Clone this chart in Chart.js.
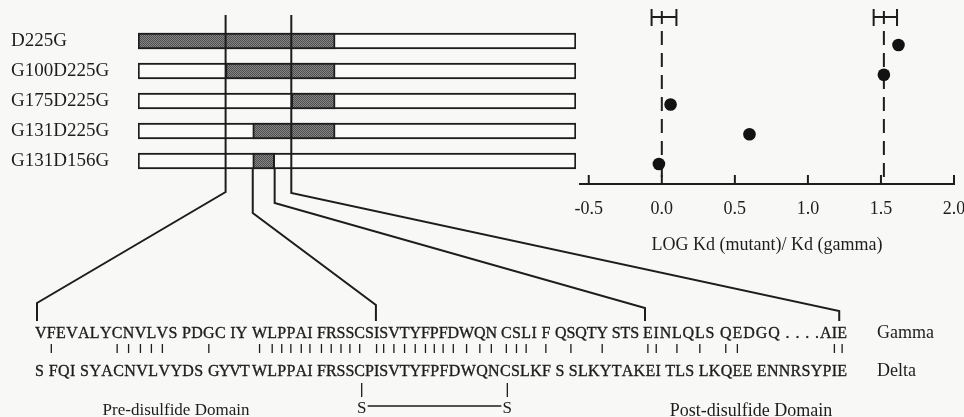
<!DOCTYPE html>
<html>
<head>
<meta charset="utf-8">
<script src="https://cdn.jsdelivr.net/npm/chart.js@4.4.1/dist/chart.umd.min.js"></script>
<style>
  html, body { margin: 0; padding: 0; background: #f8f8f6; }
  #wrap { position: relative; width: 964px; height: 417px; overflow: hidden; }
  .layer { position: absolute; left: 0; top: 0; }
</style>
</head>
<body>
<div id="wrap">
  <div class="layer" style="width:964px;height:417px"><canvas id="bars"></canvas></div>
  <div class="layer" style="width:964px;height:260px"><canvas id="kd"></canvas></div>
</div>
<script>
// ---- data ----
const mutants   = ['D225G', 'G100D225G', 'G175D225G', 'G131D225G', 'G131D156G'];
const swapStart = [0, 100, 175, 131, 131];     // first residue of the swapped segment
const swapEnd   = [225, 225, 225, 225, 156];   // last residue of the swapped segment
const chainLength = 500;
const kdRatio   = [1.62, 1.52, 0.06, 0.60, -0.02];   // LOG Kd(mutant)/Kd(gamma)
const refMean   = [0.00, 1.52];                       // gamma, delta
const refLow    = [-0.07, 1.45];
const refHigh   = [0.10, 1.61];
const kdTicks   = [-0.5, 0.0, 0.5, 1.0, 1.5, 2.0];
const boundaries = [100, 131, 156, 175];               // residues linked to the sequence
const gammaFirst = 100;                                // residue number of first aligned position
const gammaSeq = 'VFEVALYCNVLVS PDGC IY WLPPAI FRSSCSISVTYFPFDWQN CSLI F QSQTY STS EINLQLS QEDGQ . . . .AIE';
const deltaSeq = 'S FQI SYACNVLVYDS GYVT WLPPAI FRSSCPISVTYFPFDWQNCSLKF S SLKYTAKEI TLS LKQEE ENNRSYPIE';
const identicalPos = [2, 8, 9, 10, 11, 12, 16, 20, 21, 22, 23, 24, 25, 26, 27, 28, 29, 30,
  32, 33, 34, 35, 36, 37, 38, 39, 40, 41, 42, 43, 44, 45, 46, 48, 50, 53, 57, 58, 60, 62,
  64, 65, 74, 75];
const cystinePos = [30, 44];

// ---- typesetting of the alignment: [aligned position, left x] ----
const gammaAnchors = [[1, 35], [20, 252], [26, 317], [37, 421], [44, 501], [49, 555],
                      [57, 643], [64, 720], [73, 820]];
const deltaAnchors = [[1, 35], [16, 208], [20, 252], [26, 317], [37, 421], [44, 500]];
const seqRight = 847;

// ---- drawing helpers ----
const ink = '#1d1d1d';
const serif = "'Liberation Serif', 'Times New Roman', serif";

function stipple() {
  const c = document.createElement('canvas');
  c.width = 2; c.height = 2;
  const g = c.getContext('2d');
  g.fillStyle = '#858585'; g.fillRect(0, 0, 2, 2);
  g.fillStyle = '#4f4f4f'; g.fillRect(0, 0, 1, 1); g.fillRect(1, 1, 1, 1);
  return g.createPattern(c, 'repeat');
}

// place the glyphs of an aligned sequence, pinning some positions to given x
function layoutSeq(ctx, str, anchors, xEnd) {
  let pos = 0;
  const glyphs = [...str].map(c => ({
    ch: c, w: ctx.measureText(c).width, pos: c === ' ' ? null : ++pos
  }));
  const idx = anchors.map(([p, x]) => [glyphs.findIndex(g => g.pos === p), x]);
  for (let k = 0; k < idx.length; k++) {
    const [a, xa] = idx[k];
    const last = k === idx.length - 1;
    const b = last ? glyphs.length : idx[k + 1][0];
    let natural = 0;
    for (let i = a; i < b; i++) natural += glyphs[i].w;
    const span = last ? (xEnd - xa) : (idx[k + 1][1] - xa);
    const gaps = last ? Math.max(b - a - 1, 1) : (b - a);
    const extra = (span - natural) / gaps;
    let x = xa;
    for (let i = a; i < b; i++) {
      glyphs[i].x = x; glyphs[i].cx = x + glyphs[i].w / 2;
      x += glyphs[i].w + extra;
    }
  }
  return glyphs;
}
function glyphAt(glyphs, p) {
  let best = null;
  glyphs.forEach(g => { if (g.pos !== null && g.pos <= p) best = g; });
  return best;
}

const sequencePanel = {
  id: 'sequencePanel',
  afterDraw(chart) {
    const { ctx, chartArea } = chart;
    const xs = chart.scales.x, ys = chart.scales.y;
    ctx.save();
    ctx.fillStyle = ink;
    ctx.strokeStyle = ink;

    // aligned sequences
    ctx.font = '16px ' + serif;
    ctx.textBaseline = 'alphabetic';
    ctx.textAlign = 'left';
    ctx.lineWidth = 0.35;
    const gam = layoutSeq(ctx, gammaSeq, gammaAnchors, seqRight);
    const del = layoutSeq(ctx, deltaSeq, deltaAnchors, seqRight);
    gam.forEach(g => { ctx.fillText(g.ch, g.x, 338); ctx.strokeText(g.ch, g.x, 338); });
    del.forEach(g => { ctx.fillText(g.ch, g.x, 376); ctx.strokeText(g.ch, g.x, 376); });

    // identity marks
    ctx.lineWidth = 1.3;
    ctx.beginPath();
    identicalPos.forEach(p => {
      const g = glyphAt(gam, p);
      ctx.moveTo(g.cx, 344); ctx.lineTo(g.cx, 353);
    });
    ctx.stroke();

    // disulfide bond
    ctx.font = '17px ' + serif;
    ctx.textAlign = 'center';
    const sx = cystinePos.map(p => glyphAt(del, p).cx + 2);
    ctx.beginPath();
    sx.forEach(x => { ctx.moveTo(x, 383); ctx.lineTo(x, 397); });
    ctx.moveTo(sx[0] + 6, 406); ctx.lineTo(sx[1] - 6, 406);
    ctx.stroke();
    sx.forEach(x => ctx.fillText('S', x, 413));

    // labels
    ctx.fillText('Pre-disulfide Domain', 176, 415);
    ctx.font = '18px ' + serif;
    ctx.fillText('Post-disulfide Domain', 751, 416);
    ctx.textAlign = 'left';
    ctx.fillText('Gamma', 877, 338);
    ctx.fillText('Delta', 877, 376);

    // connectors from the chain map to the sequence
    const last = mutants.length - 1;
    const barBottom = ys.getPixelForValue(last) + 8;
    const kinkY = [192, 213, 203, 193];
    const landY = [303, 305, 308, 311];
    ctx.lineWidth = 2;
    ctx.beginPath();
    boundaries.forEach((r, i) => {
      const px = xs.getPixelForValue(r);
      const inLast = r >= swapStart[last] && r <= swapEnd[last];
      const top = inLast ? barBottom : chartArea.top - 11;
      const g = glyphAt(gam, r - gammaFirst + 1);
      const gx = g.x + Math.min(g.w / 2, 2);
      ctx.moveTo(px, top);
      ctx.lineTo(px, kinkY[i]);
      ctx.lineTo(gx, landY[i]);
      ctx.lineTo(gx, 321);
    });
    ctx.stroke();
    ctx.restore();
  }
};

const kdMarks = {
  id: 'kdMarks',
  beforeDatasetsDraw(chart) {
    const { ctx, chartArea } = chart;
    const xs = chart.scales.x;
    ctx.save();
    ctx.strokeStyle = ink;
    ctx.lineWidth = 2;
    // upward tick marks on the axis
    ctx.beginPath();
    kdTicks.forEach(v => {
      const px = xs.getPixelForValue(v);
      ctx.moveTo(px, chartArea.bottom); ctx.lineTo(px, chartArea.bottom - 9);
    });
    ctx.stroke();
    // reference ranges and dashed guides
    refMean.forEach((m, i) => {
      const pm = xs.getPixelForValue(m);
      const pl = xs.getPixelForValue(refLow[i]);
      const ph = xs.getPixelForValue(refHigh[i]);
      ctx.setLineDash([]);
      ctx.beginPath();
      ctx.moveTo(pl, 17); ctx.lineTo(ph, 17);
      ctx.moveTo(pl, 9); ctx.lineTo(pl, 26);
      ctx.moveTo(ph, 9); ctx.lineTo(ph, 26);
      ctx.moveTo(pm, 11); ctx.lineTo(pm, 24);
      ctx.stroke();
      ctx.setLineDash([14, 8]);
      ctx.beginPath();
      ctx.moveTo(pm, 31); ctx.lineTo(pm, chartArea.bottom);
      ctx.stroke();
    });
    ctx.restore();
  }
};

// ---- chain map (horizontal floating bars) ----
new Chart(document.getElementById('bars'), {
  type: 'bar',
  data: {
    labels: mutants,
    datasets: [
      {
        label: 'gamma segment',
        data: mutants.map((m, i) => [swapStart[i], swapEnd[i]]),
        backgroundColor: stipple(),
        borderColor: ink, borderWidth: 2, borderSkipped: false,
        barThickness: 16, grouped: false, order: 0
      },
      {
        label: 'chain',
        data: mutants.map(() => [0, chainLength]),
        backgroundColor: '#fbfbfa',
        borderColor: ink, borderWidth: 2, borderSkipped: false,
        barThickness: 16, grouped: false, order: 1
      }
    ]
  },
  options: {
    indexAxis: 'y',
    responsive: true, maintainAspectRatio: false, animation: false, events: [],
    layout: { autoPadding: false, padding: { left: 11, right: 388, top: 26, bottom: 241 } },
    plugins: { legend: { display: false }, tooltip: { enabled: false } },
    scales: {
      x: { type: 'linear', min: 0, max: chainLength, display: false },
      y: {
        type: 'category',
        grid: { display: false, drawTicks: false },
        border: { display: false },
        ticks: { crossAlign: 'far', padding: 0, color: ink, font: { family: serif, size: 19 } },
        afterFit(s) { s.width = 127; }
      }
    }
  },
  plugins: [sequencePanel]
});

// ---- binding affinity panel ----
new Chart(document.getElementById('kd'), {
  type: 'scatter',
  data: {
    datasets: [{
      label: 'mutants',
      data: kdRatio.map((v, i) => ({ x: v, y: i })),
      pointRadius: 6.3, pointBackgroundColor: '#121212', pointBorderWidth: 0
    }]
  },
  options: {
    responsive: true, maintainAspectRatio: false, animation: false, events: [],
    layout: { autoPadding: false, padding: { left: 580, right: 10, top: 0, bottom: 0 } },
    plugins: { legend: { display: false }, tooltip: { enabled: false } },
    scales: {
      x: {
        type: 'linear', min: -0.56, max: 2.0,
        afterBuildTicks(s) { s.ticks = kdTicks.map(v => ({ value: v })); },
        grid: { display: false, drawTicks: false },
        border: { display: true, color: ink, width: 2 },
        ticks: { padding: 14, color: ink, font: { family: serif, size: 18 }, callback: v => Number(v).toFixed(1) },
        title: { display: true, text: 'LOG Kd (mutant)/ Kd (gamma)', color: ink,
                 font: { family: serif, size: 18 }, padding: { top: 4, bottom: 4 } },
        afterFit(s) { s.height = 76; s.paddingLeft = 0; s.paddingRight = 0; }
      },
      y: {
        type: 'linear', reverse: true, min: -1.513, max: 4.672, display: false,
        afterFit(s) { s.paddingTop = 0; s.paddingBottom = 0; }
      }
    }
  },
  plugins: [kdMarks]
});
</script>
</body>
</html>
